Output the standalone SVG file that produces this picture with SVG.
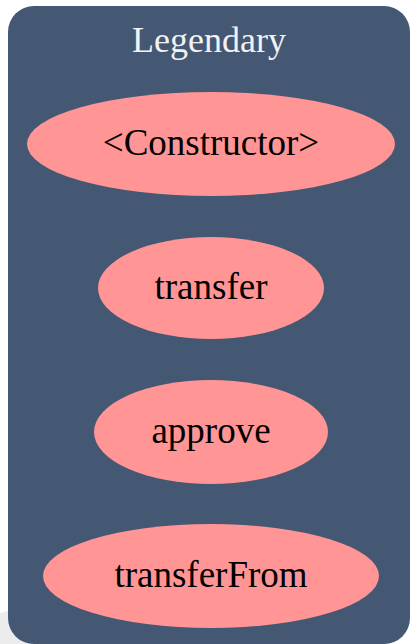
<svg xmlns="http://www.w3.org/2000/svg" width="410" height="644" viewBox="0 0 410 644">
<style>
.node ellipse{fill:#ff9595;stroke:none}
.lbl{font-family:'Liberation Serif','Times New Roman',serif;font-size:37px;fill:#000000;text-anchor:middle}
.title{font-family:'Liberation Serif','Times New Roman',serif;font-size:36px;fill:#f2f2f2;text-anchor:middle}
</style>
<rect width="410" height="644" fill="#ffffff"/>
<circle cx="20" cy="678" r="68" fill="#ececec"/>
<g id="cluster_legend">
<rect x="8" y="6" width="402" height="638" rx="26" ry="26" fill="#445773"/>
<text class="title" x="209" y="52">Legendary</text>
</g>
<g id="connectors"></g>
<g id="node_constructor" class="node">
<ellipse cx="211" cy="144" rx="184" ry="52"/>
<text class="lbl" x="211" y="155">&lt;Constructor&gt;</text>
</g>
<g id="node_transfer" class="node">
<ellipse cx="211" cy="288" rx="113" ry="51"/>
<text class="lbl" x="211" y="299">transfer</text>
</g>
<g id="node_approve" class="node">
<ellipse cx="211" cy="432" rx="117" ry="52"/>
<text class="lbl" x="211" y="443">approve</text>
</g>
<g id="node_transferFrom" class="node">
<ellipse cx="211" cy="576" rx="168" ry="52"/>
<text class="lbl" x="211" y="587">transferFrom</text>
</g>
</svg>
